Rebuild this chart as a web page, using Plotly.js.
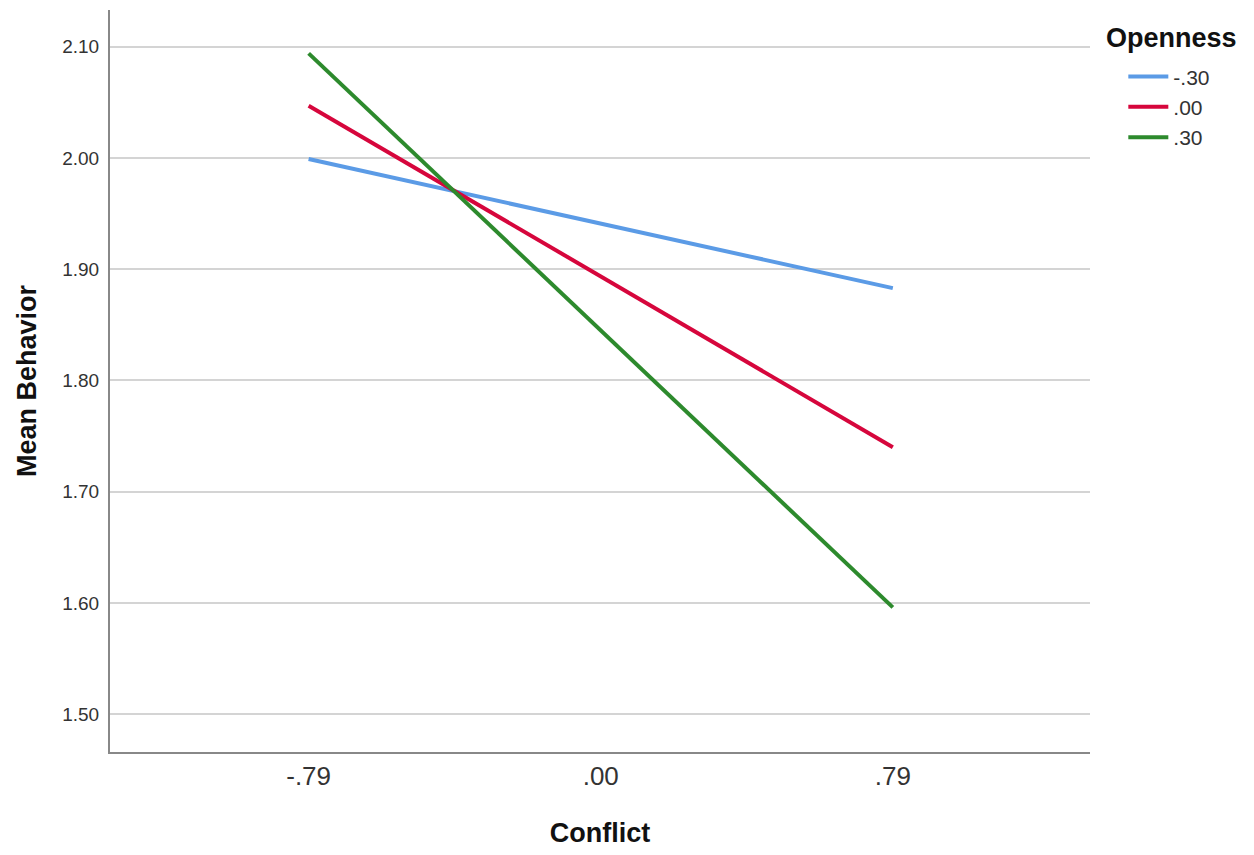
<!DOCTYPE html>
<html>
<head>
<meta charset="utf-8">
<script src="https://cdn.plot.ly/plotly-3.0.1.min.js"></script>
<style>html,body{margin:0;padding:0;background:#fff;}#chart{width:1254px;height:855px;}</style>
</head>
<body>
<div id="chart"></div>
<script>
const conflictLabels = ["-.79", ".00", ".79"];
const opennessLabels = ["-.30", ".00", ".30"];
const legendTitle = "Openness";
const behaviorLow = [1.999, 1.941, 1.883];
const behaviorMid = [2.047, 1.894, 1.740];
const behaviorHigh = [2.094, 1.845, 1.596];
const yTicks = [1.50, 1.60, 1.70, 1.80, 1.90, 2.00, 2.10];
const yTickText = ["1.50", "1.60", "1.70", "1.80", "1.90", "2.00", "2.10"];
const colors = ["#5b9be6", "#d6063c", "#2d8a2d"];

const series = [behaviorLow, behaviorMid, behaviorHigh];
const traces = series.map((vals, i) => ({
  x: conflictLabels,
  y: vals,
  type: "scatter",
  mode: "lines",
  name: opennessLabels[i],
  line: {color: colors[i], width: 4}
}));

const layout = {
  width: 1254, height: 855,
  paper_bgcolor: "#fff", plot_bgcolor: "#fff",
  margin: {l: 110, r: 164, t: 10, b: 103, autoexpand: false},
  font: {family: "Liberation Sans, Arial, sans-serif", color: "#222"},
  showlegend: true,
  legend: {
    x: 1.034, xanchor: "left", y: 0.9375, yanchor: "top",
    font: {size: 21, color: "#333"},
    tracegroupgap: 0, itemwidth: 40,
    bgcolor: "rgba(0,0,0,0)"
  },
  annotations: [{
    text: "<b>" + legendTitle + "</b>",
    xref: "paper", yref: "paper",
    x: 1.0145, xanchor: "left",
    y: 1.0, yanchor: "middle", yshift: -28,
    showarrow: false,
    font: {size: 27, color: "#111"}
  }],
  xaxis: {
    type: "category",
    range: [-0.68, 2.675],
    showgrid: false, zeroline: false,
    showline: true, linecolor: "#888", linewidth: 2,
    ticks: "", ticklabelstandoff: 0, tickfont: {size: 26, color: "#333"},
    title: {text: "<b>Conflict</b>", font: {size: 27, color: "#111"}, standoff: 33}
  },
  yaxis: {
    range: [1.466, 2.133],
    tickvals: yTicks, ticktext: yTickText,
    showgrid: true, gridcolor: "#d4d4d4", gridwidth: 2,
    zeroline: false,
    showline: true, linecolor: "#888", linewidth: 2,
    ticks: "", ticklabelstandoff: 5,
    tickfont: {size: 19, color: "#333"},
    title: {text: "<b>Mean Behavior</b>", font: {size: 27, color: "#111"}, standoff: 18}
  }
};

Plotly.newPlot("chart", traces, layout, {displayModeBar: false, staticPlot: true});
</script>
</body>
</html>
